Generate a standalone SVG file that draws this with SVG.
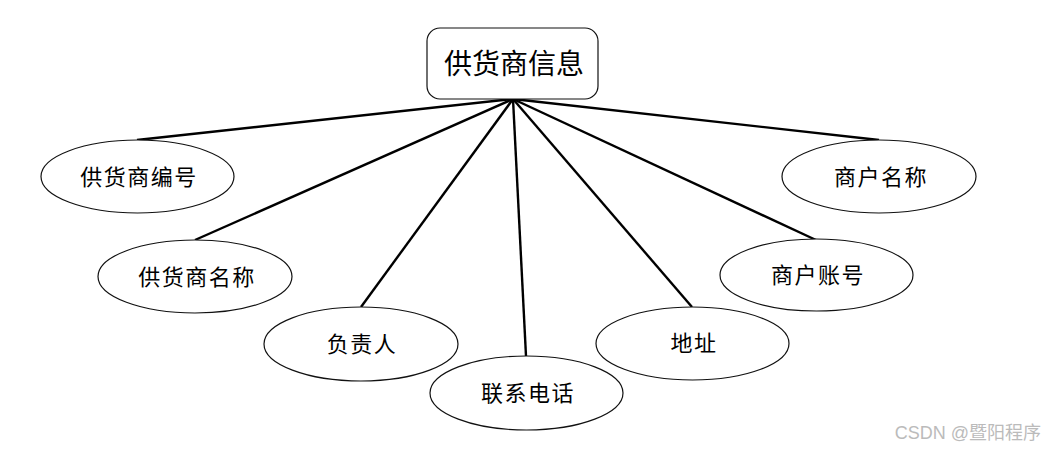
<svg xmlns="http://www.w3.org/2000/svg" width="1047" height="451" viewBox="0 0 1047 451">
<style>
.e{fill:#fff;stroke:#111;stroke-width:1.2}
.t{font-family:"Liberation Serif","Noto Sans CJK SC",serif;font-size:22px;letter-spacing:1.5px;fill:#000;text-anchor:middle;dominant-baseline:central}
.c{stroke:#000;stroke-width:2.4;fill:none}
</style>
<rect width="1047" height="451" fill="#fff"/>
<g id="connectors">
<line class="c" x1="513" y1="99" x2="137" y2="140"/>
<line class="c" x1="513" y1="99" x2="195" y2="240"/>
<line class="c" x1="513" y1="99" x2="361" y2="307"/>
<line class="c" x1="513" y1="99" x2="526" y2="356"/>
<line class="c" x1="513" y1="99" x2="692" y2="307"/>
<line class="c" x1="513" y1="99" x2="816" y2="240"/>
<line class="c" x1="513" y1="99" x2="879" y2="140"/>
</g>
<g id="root">
<rect x="427" y="28" width="171" height="71" rx="13" class="e"/>
<text x="514" y="64" class="t" style="font-size:28px;letter-spacing:0">供货商信息</text>
</g>
<g id="n1"><ellipse cx="137.5" cy="176.5" rx="96.5" ry="36.5" class="e"/><text x="139" y="177" class="t">供货商编号</text></g>
<g id="n2"><ellipse cx="195" cy="276.5" rx="97" ry="36.5" class="e"/><text x="197" y="277" class="t">供货商名称</text></g>
<g id="n3"><ellipse cx="361" cy="344" rx="97" ry="37" class="e"/><text x="362" y="344" class="t">负责人</text></g>
<g id="n4"><ellipse cx="526.5" cy="393" rx="96.5" ry="37" class="e"/><text x="528" y="393" class="t">联系电话</text></g>
<g id="n5"><ellipse cx="692.5" cy="343.5" rx="96.5" ry="36.5" class="e"/><text x="694" y="343" class="t">地址</text></g>
<g id="n6"><ellipse cx="816.5" cy="275" rx="96.5" ry="36" class="e"/><text x="818" y="275" class="t">商户账号</text></g>
<g id="n7"><ellipse cx="879" cy="176.5" rx="97" ry="36.5" class="e"/><text x="881" y="177" class="t">商户名称</text></g>
<text x="1041" y="433" font-family="'Liberation Sans','Noto Sans CJK SC',sans-serif" font-size="18" fill="#bbb" text-anchor="end" dominant-baseline="central">CSDN @暨阳程序</text>
</svg>
